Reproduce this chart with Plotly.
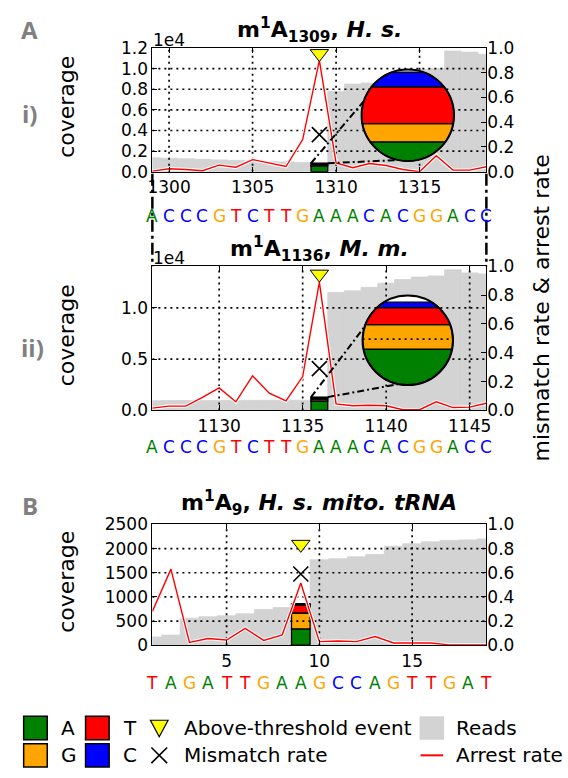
import numpy as np
import plotly.graph_objects as go

W, H = 568, 778
FONT = "DejaVu Sans"

# ---------------- data ----------------
seq_a = list("ACCCGTCTTGAAACACGGACC")
seq_b = list("TAGATTGAAGCCAGTTGAT")
bases = ["A", "G", "T", "C"]
base_colors = {"A": "#008000", "G": "#FFA500", "T": "#FF0000", "C": "#0000FF"}

# A i) m1A1309, H. s.
pos_a1 = list(range(1299, 1320))
cov_a1 = [1350, 1300, 1250, 1200, 1150, 1100, 1050, 1000, 950, 900, 850,
          7800, 8500, 8600, 8800, 9200, 9900, 10000, 11700, 11600, 11400]
arr_a1 = [0.005, 0.024, 0.018, 0.008, 0.053, 0.037, 0.098, 0.071, 0.042, 0.26, 0.90,
          0.071, 0.032, 0.066, 0.05, 0.018, 0.0, 0.13, 0.013, 0.013, 0.04]
site_a1 = 1309
comp_a1 = [574, 65, 130, 52]
mis_a1 = 0.30
evt_a1 = 0.955
win_a1 = [506, 831]
inset_grid_a1 = []

# A ii) m1A1136, M. m.
pos_a2 = list(range(1126, 1147))
cov_a2 = [950, 960, 960, 970, 980, 980, 990, 990, 1000, 1000, 1300,
          11500, 11650, 12000, 12400, 12750, 13000, 13100, 13700, 13400, 13300]
arr_a2 = [0.016, 0.03, 0.03, 0.09, 0.156, 0.06, 0.24, 0.12, 0.066, 0.235, 0.89,
          0.045, 0.032, 0.036, 0.032, 0.005, 0.005, 0.06, 0.02, 0.023, 0.05]
site_a2 = 1136
comp_a2 = [920, 196, 138, 43]
mis_a2 = 0.29
evt_a2 = 0.945
win_a2 = [630, 1351]
inset_grid_a2 = [1000]

# B) m1A9, H. s. mito. tRNA
pos_b = list(range(1, 20))
cov_b = [170, 210, 560, 590, 610, 650, 740, 780, 850, 1770, 1790, 1830, 1880,
         2050, 2100, 2140, 2170, 2180, 2200]
arr_b = [0.28, 0.63, 0.024, 0.056, 0.043, 0.14, 0.04, 0.086, 0.515, 0.03, 0.035,
         0.03, 0.072, 0.019, 0.019, 0.019, 0.003, 0.005, 0.003]
site_b = 9
comp_b = [340, 327, 166, 27]
mis_b = 0.59
evt_b = 0.835

xticks_a1 = [1300, 1305, 1310, 1315]
xticks_a2 = [1130, 1135, 1140, 1145]
xticks_b = [5, 10, 15]
yticks_a1 = [0, 2000, 4000, 6000, 8000, 10000, 12000]
yticks_a2 = [0, 5000, 10000]
yticks_b = [0, 500, 1000, 1500, 2000, 2500]
rate_ticks = [0.0, 0.2, 0.4, 0.6, 0.8, 1.0]

# ---------------- layout geometry (pixels) ----------------
PX0, PX1 = 150, 490
panels = [
    dict(pos=pos_a1, cov=cov_a1, arr=arr_a1, site=site_a1, comp=comp_a1, mis=mis_a1,
         evt=evt_a1, seq=seq_a, xt=xticks_a1, yt=yticks_a1,
         ytext=[f"{v/1e4:.1f}" for v in yticks_a1], xr=[1299, 1319], ymax=12000,
         top=39, bot=166, seq_y=211, title="<b>m<sup>1</sup>A<sub>1309</sub>, <i>H. s.</i></b>",
         title_y=21, exp_y=31, inset=dict(cx=410, cy=108, r=47, win=win_a1, grid=inset_grid_a1)),
    dict(pos=pos_a2, cov=cov_a2, arr=arr_a2, site=site_a2, comp=comp_a2, mis=mis_a2,
         evt=evt_a2, seq=seq_a, xt=xticks_a2, yt=yticks_a2,
         ytext=[f"{v/1e4:.1f}" for v in yticks_a2], xr=[1126, 1146], ymax=14050,
         top=263, bot=411, seq_y=449, title="<b>m<sup>1</sup>A<sub>1136</sub>, <i>M. m.</i></b>",
         title_y=245, exp_y=255, inset=dict(cx=410, cy=339, r=46, win=win_a2, grid=inset_grid_a2)),
    dict(pos=pos_b, cov=cov_b, arr=arr_b, site=site_b, comp=comp_b, mis=mis_b,
         evt=evt_b, seq=seq_b, xt=xticks_b, yt=yticks_b,
         ytext=[str(v) for v in yticks_b], xr=[1, 19], ymax=2500,
         top=528, bot=652, seq_y=691, title="<b>m<sup>1</sup>A<sub>9</sub>, <i>H. s. mito. tRNA</i></b>",
         title_y=506, exp_y=None, inset=None),
]


def px(x):
    return x / W


def py(y):
    return 1 - y / H


fig = go.Figure()
shapes = []
annotations = []
GRID_DASH = "2px,4px"

for k, p in enumerate(panels, start=1):
    xa = "x" if k == 1 else f"x{k}"
    ya = "y" if k == 1 else f"y{k}"
    ya2 = f"y{k+3}"
    # coverage (reads)
    fig.add_trace(go.Bar(x=p["pos"], y=p["cov"], width=1,
                         marker=dict(color="#D3D3D3", line=dict(width=0.8, color="#D3D3D3")),
                         xaxis=xa, yaxis=ya, hoverinfo="skip"))
    # stacked base composition at the modified site
    cum = np.concatenate([[0], np.cumsum(p["comp"])])
    for i, b in enumerate(bases):
        fig.add_trace(go.Bar(x=[p["site"]], y=[p["comp"][i]], base=[cum[i]], width=1,
                             marker=dict(color=base_colors[b], line=dict(width=1.3, color="black")),
                             xaxis=xa, yaxis=ya, hoverinfo="skip"))
    # dotted grid (above the coverage, below the rate curves)
    gx, gy = [], []
    for t in p["xt"]:
        gx += [t, t, None]
        gy += [0, p["ymax"], None]
    for t in p["yt"]:
        if 0 < t < p["ymax"]:
            gx += [p["xr"][0], p["xr"][1], None]
            gy += [t, t, None]
    fig.add_trace(go.Scatter(x=gx, y=gy, mode="lines", line=dict(color="black", width=1.7, dash=GRID_DASH),
                             xaxis=xa, yaxis=ya, hoverinfo="skip"))
    # arrest rate (with white halo)
    fig.add_trace(go.Scatter(x=p["pos"], y=p["arr"], mode="lines", line=dict(color="white", width=3.5),
                             xaxis=xa, yaxis=ya2, hoverinfo="skip"))
    fig.add_trace(go.Scatter(x=p["pos"], y=p["arr"], mode="lines", line=dict(color="#FF0000", width=1.4),
                             xaxis=xa, yaxis=ya2, hoverinfo="skip"))
    # mismatch rate
    fig.add_trace(go.Scatter(x=[p["site"]], y=[p["mis"]], mode="markers",
                             marker=dict(symbol="x-thin", size=15, line=dict(width=1.6, color="black")),
                             xaxis=xa, yaxis=ya2, hoverinfo="skip"))
    # above-threshold event
    fig.add_trace(go.Scatter(x=[p["site"]], y=[p["evt"]], mode="markers",
                             marker=dict(symbol="triangle-down", size=16, color="#FFFF00",
                                         line=dict(width=1, color="black")),
                             xaxis=xa, yaxis=ya2, hoverinfo="skip"))

    dom_y = [py(p["bot"]), py(p["top"])]
    axis_common = dict(showline=True, linecolor="black", linewidth=1, ticks="inside", ticklen=5,
                       tickwidth=1, tickcolor="black", showgrid=False, zeroline=False,
                       tickfont=dict(family=FONT, size=17, color="black"), layer="above traces")
    fig.update_layout(**{
        ("xaxis" if k == 1 else f"xaxis{k}"): dict(domain=[px(PX0), px(PX1)], range=p["xr"], anchor=ya,
                                                   tickvals=p["xt"], mirror="ticks", **axis_common),
        ("yaxis" if k == 1 else f"yaxis{k}"): dict(domain=dom_y, range=[0, p["ymax"]], anchor=xa,
                                                   tickvals=p["yt"], ticktext=p["ytext"], mirror=True,
                                                   **axis_common),
        f"yaxis{k+3}": dict(overlaying=ya, side="right", range=[0, 1], anchor=xa, tickvals=rate_ticks,
                            tickformat=".1f", **{**axis_common, "showline": False}),
    })

    # pixel mapping helpers for this panel
    def mapx(v, p=p):
        return PX0 + (v - p["xr"][0]) / (p["xr"][1] - p["xr"][0]) * (PX1 - PX0)

    def mapy(v, p=p):
        return p["bot"] - v / p["ymax"] * (p["bot"] - p["top"])

    # title
    annotations.append(dict(text=p["title"], x=px(320), y=py(p["title_y"]), xref="paper", yref="paper",
                            showarrow=False, font=dict(family=FONT, size=22, color="black"),
                            xanchor="center", yanchor="middle"))
    if p["exp_y"] is not None:
        annotations.append(dict(text="1e4", x=px(PX0 - 1), y=py(p["exp_y"]), xref="paper", yref="paper",
                                showarrow=False, font=dict(family=FONT, size=17, color="black"),
                                xanchor="left", yanchor="middle"))
    # sequence letters
    for xv, letter in zip(p["pos"], p["seq"]):
        annotations.append(dict(text=letter, x=xv, y=py(p["seq_y"]), xref=xa, yref="paper",
                                showarrow=False, font=dict(family=FONT, size=17, color=base_colors[letter]),
                                xanchor="center", yanchor="middle"))
    # coverage label
    annotations.append(dict(text="coverage", x=px(63), y=py((p["top"] + p["bot"]) / 2 - 3), xref="paper",
                            yref="paper", showarrow=False, textangle=-90,
                            font=dict(family=FONT, size=22, color="black"), xanchor="center", yanchor="middle"))

    # circular zoom inset
    ins = p["inset"]
    if ins is not None:
        cx, cy, r = ins["cx"], ins["cy"], ins["r"]
        lo, hi = ins["win"]
        total = cum[-1]

        def wy(v, cy=cy, r=r, lo=lo, hi=hi):
            return cy + r - (v - lo) / (hi - lo) * 2 * r

        bx0, bx1, btop = mapx(p["site"] - 0.5), mapx(p["site"] + 0.5), mapy(total)
        for ang, sx in ((162, bx0), (258, bx1)):
            ex = cx + r * np.cos(np.radians(ang))
            ey = cy - r * np.sin(np.radians(ang))
            shapes.append(dict(type="line", xref="paper", yref="paper", x0=px(sx), y0=py(btop),
                               x1=px(ex), y1=py(ey), line=dict(color="black", width=2, dash="7px,3px,2px,3px")))
        shapes.append(dict(type="circle", xref="paper", yref="paper", x0=px(cx - r), x1=px(cx + r),
                           y0=py(cy + r), y1=py(cy - r), fillcolor="white", line=dict(width=0)))
        for i, b in enumerate(bases):
            s0, s1 = max(cum[i], lo), min(cum[i + 1], hi)
            if s1 <= s0:
                continue
            ytop, ybot = wy(s1), wy(s0)
            ys = np.linspace(ytop, ybot, 48)
            dx = np.sqrt(np.clip(r ** 2 - (ys - cy) ** 2, 0, None))
            pts = [(cx + d, yy) for d, yy in zip(dx, ys)] + [(cx - d, yy) for d, yy in zip(dx[::-1], ys[::-1])]
            path = "M " + " L ".join(f"{px(a):.5f},{py(c):.5f}" for a, c in pts) + " Z"
            shapes.append(dict(type="path", xref="paper", yref="paper", path=path,
                               fillcolor=base_colors[b], line=dict(color="black", width=1.3)))
        for g in ins["grid"]:
            gy_ = wy(g)
            d = np.sqrt(max(r ** 2 - (gy_ - cy) ** 2, 0))
            shapes.append(dict(type="line", xref="paper", yref="paper", x0=px(cx - d), x1=px(cx + d),
                               y0=py(gy_), y1=py(gy_), line=dict(color="black", width=1.7, dash=GRID_DASH)))
        shapes.append(dict(type="circle", xref="paper", yref="paper", x0=px(cx - r), x1=px(cx + r),
                           y0=py(cy + r), y1=py(cy - r), line=dict(color="black", width=2)))

# dash-dot connectors between A i and A ii
for xx in (PX0, PX1):
    shapes.append(dict(type="line", xref="paper", yref="paper", x0=px(xx), x1=px(xx),
                       y0=py(panels[0]["bot"] + 2), y1=py(panels[1]["top"]),
                       line=dict(color="black", width=2.5, dash="12px,4px,3px,4px")))

# panel labels
gray_txt = "#808080"
for txt, x, y, bold in (("A", 25, 20, True), ("B", 25, 509, True), ("i)", 25, 106, True), ("ii)", 28, 346, True)):
    annotations.append(dict(text=f"<b>{txt}</b>" if bold else txt, x=px(x), y=py(y), xref="paper", yref="paper",
                            showarrow=False, font=dict(family="Open Sans", size=24, color=gray_txt),
                            xanchor="center", yanchor="middle"))

annotations.append(dict(text="mismatch rate & arrest rate", x=px(546), y=py(306), xref="paper", yref="paper",
                        showarrow=False, textangle=-90, font=dict(family=FONT, size=22, color="black"),
                        xanchor="center", yanchor="middle"))

# ---------------- legend ----------------
R1, R2 = 737, 765
SQ = 12
leg_sq = [("A", 31, R1), ("T", 94, R1), ("G", 31, R2), ("C", 94, R2)]
for b, cx_, cy_ in leg_sq:
    shapes.append(dict(type="rect", xref="paper", yref="paper", x0=px(cx_ - SQ), x1=px(cx_ + SQ),
                       y0=py(cy_ + SQ), y1=py(cy_ - SQ), fillcolor=base_colors[b],
                       line=dict(color="black", width=1.5)))
    annotations.append(dict(text=b, x=px(cx_ + 24), y=py(cy_), xref="paper", yref="paper", showarrow=False,
                            font=dict(family=FONT, size=20, color="black"), xanchor="left", yanchor="middle"))
# triangle
tcx, tcy = 157, R1
tri = [(tcx - 9, tcy - 8), (tcx + 9, tcy - 8), (tcx, tcy + 9)]
shapes.append(dict(type="path", xref="paper", yref="paper",
                   path="M " + " L ".join(f"{px(a):.5f},{py(c):.5f}" for a, c in tri) + " Z",
                   fillcolor="#FFFF00", line=dict(color="black", width=1.2)))
# X
for sgn in (1, -1):
    shapes.append(dict(type="line", xref="paper", yref="paper", x0=px(157 - 8), x1=px(157 + 8),
                       y0=py(R2 - 8 * sgn), y1=py(R2 + 8 * sgn), line=dict(color="black", width=1.6)))
# reads
shapes.append(dict(type="rect", xref="paper", yref="paper", x0=px(422), x1=px(447), y0=py(R1 + 12),
                   y1=py(R1 - 12), fillcolor="#D3D3D3", line=dict(width=0)))
shapes.append(dict(type="line", xref="paper", yref="paper", x0=px(423), x1=px(446), y0=py(R2), y1=py(R2),
                   line=dict(color="#FF0000", width=2)))
for txt, x, y in (("Above-threshold event", 180, R1), ("Mismatch rate", 180, R2),
                  ("Reads", 457, R1), ("Arrest rate", 457, R2)):
    annotations.append(dict(text=txt, x=px(x), y=py(y), xref="paper", yref="paper", showarrow=False,
                            font=dict(family=FONT, size=20, color="black"), xanchor="left", yanchor="middle"))

fig.update_layout(width=W, height=H, margin=dict(l=0, r=0, t=0, b=0), barmode="overlay",
                  showlegend=False, paper_bgcolor="white", plot_bgcolor="white",
                  shapes=shapes, annotations=annotations, hovermode=False)

fig.write_html("out.html")
